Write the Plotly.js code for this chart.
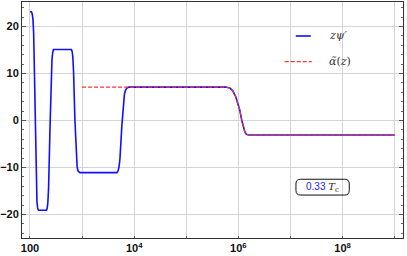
<!DOCTYPE html>
<html>
<head>
<meta charset="utf-8">
<script src="https://cdn.plot.ly/plotly-3.0.1.min.js"></script>
<style>html,body{margin:0;padding:0;background:#fff;}#chart{width:407px;height:256px;}</style>
</head>
<body>
<div id="chart"></div>
<script>
// Blue curve z*psi'
const psiX = [100, 106.8, 110.7, 114.2, 117.7, 122.0, 127.5, 132.1, 136.2, 140.5, 145.5,
  207.3, 213.7, 220.4, 227.4, 241.9, 256.2, 264.2, 272.5, 282.3,
  625.2, 644.8, 665.0, 685.9, 729.5, 776.0, 803.9, 832.7, 870.8, 910.0,
  4662, 4873, 5094, 5322, 5815, 6213, 6494, 6786, 7252, 7921,
  574200, 685600, 782400, 893400, 975600, 1065000, 1164000, 1244000, 1329000, 1420000, 1551000, 1.0e9];
const psiY = [23.2, 23.1, 22.6, 21.5, 18.5, 10, -5, -14, -17.3, -18.6, -19.1,
  -19.1, -18.7, -17.5, -14.5, -2, 9, 12.8, 14.4, 15.1,
  15.1, 14.7, 13.5, 10.5, 0, -7.5, -9.8, -10.7, -11.0, -11.1,
  -11.1, -10.8, -10, -8.3, -1, 3.5, 5.5, 6.4, 6.9, 7.1,
  7.1, 6.9, 6.3, 5, 3.8, 2.2, 0, -1.5, -2.4, -2.9, -3.1, -3.1];
// Red dashed curve alpha~(z)
const alphaX = [1000, 574200, 685600, 782400, 893400, 975600, 1065000, 1164000, 1244000, 1329000, 1420000, 1551000, 1.0e9];
const alphaY = [7.1, 7.1, 6.9, 6.3, 5, 3.8, 2.2, 0, -1.5, -2.4, -2.9, -3.1, -3.1];

const xTickVals = [100, 1e4, 1e6, 1e8];
const xTickText = ['100', '10<sup>4</sup>', '10<sup>6</sup>', '10<sup>8</sup>'];
const xMinorVals = [1e3, 1e5, 1e7, 1e9];
const yTickVals = [-20, -10, 0, 10, 20];

const legendNames = ['<i>zψ′</i>', '<i>α̃</i>(<i>z</i>)'];
const boxLabel = '<span style="color:#1a1aff">0.33</span> <span style="font-family:\'DejaVu Serif\',serif"><i>T</i><sub>c</sub></span>';

const traces = [
  {x: psiX, y: psiY, type: 'scatter', mode: 'lines', line: {color: '#1010ff', width: 1.6}, showlegend: false},
  {x: alphaX, y: alphaY, type: 'scatter', mode: 'lines', line: {color: '#ff3030', width: 1.2, dash: '4px,2px'}, showlegend: false}
];

// box geometry (paper coords)
const bx0 = 0.719, bx1 = 0.859, by0 = 0.182, by1 = 0.249, rx = 0.012, ry = 0.02;
const boxPath = `M${bx0+rx},${by0} L${bx1-rx},${by0} Q${bx1},${by0} ${bx1},${by0+ry} L${bx1},${by1-ry} Q${bx1},${by1} ${bx1-rx},${by1} L${bx0+rx},${by1} Q${bx0},${by1} ${bx0},${by1-ry} L${bx0},${by0+ry} Q${bx0},${by0} ${bx0+rx},${by0} Z`;

const layout = {
  width: 407, height: 256,
  margin: {l: 22, r: 4, t: 2, b: 18},
  paper_bgcolor: '#fff', plot_bgcolor: '#fff',
  xaxis: {
    type: 'log', range: [1.847, 9.16],
    tickmode: 'array', tickvals: xTickVals, ticktext: xTickText,
    showgrid: true, gridcolor: '#d4d4d4', gridwidth: 1,
    minor: {tickmode: 'array', tickvals: xMinorVals, showgrid: true, gridcolor: '#d4d4d4', gridwidth: 1, ticks: 'inside', ticklen: 2, tickcolor: '#555'},
    zeroline: false, showline: true, linecolor: '#333', linewidth: 1, mirror: true,
    ticks: 'inside', ticklen: 2, tickcolor: '#555',
    tickfont: {family: 'Liberation Sans, Arial, sans-serif', size: 11, color: '#111', weight: 'bold'}
  },
  yaxis: {
    range: [-25, 25.2],
    tickvals: yTickVals,
    showgrid: true, gridcolor: '#d4d4d4', gridwidth: 1,
    zeroline: false, showline: true, linecolor: '#333', linewidth: 1, mirror: 'ticks',
    ticks: 'inside', ticklen: 4, tickcolor: '#555',
    minor: {dtick: 2, ticks: 'inside', ticklen: 2, tickcolor: '#666', showgrid: false},
    tickfont: {family: 'Liberation Sans, Arial, sans-serif', size: 11, color: '#111', weight: 'bold'}
  },
  shapes: [
    {type: 'line', xref: 'paper', yref: 'paper', x0: 0.7186, x1: 0.758, y0: 0.856, y1: 0.856, line: {color: '#1010ff', width: 1.6}},
    {type: 'line', xref: 'paper', yref: 'paper', x0: 0.6897, x1: 0.7605, y0: 0.7476, y1: 0.7476, line: {color: '#ff3030', width: 1.2, dash: '4px,2px'}},
    {type: 'path', xref: 'paper', yref: 'paper', path: boxPath, line: {color: '#111', width: 1}, fillcolor: 'rgba(255,255,255,0)'}
  ],
  annotations: [
    {xref: 'paper', yref: 'paper', x: 0.8, y: 0.856, xanchor: 'left', yanchor: 'middle', text: legendNames[0], showarrow: false,
     font: {family: 'DejaVu Serif, serif', size: 11, color: '#333'}},
    {xref: 'paper', yref: 'paper', x: 0.8, y: 0.7476, xanchor: 'left', yanchor: 'middle', text: legendNames[1], showarrow: false,
     font: {family: 'DejaVu Serif, serif', size: 11, color: '#333'}},
    {xref: 'paper', yref: 'paper', x: (bx0 + bx1) / 2, y: (by0 + by1) / 2, xanchor: 'center', yanchor: 'middle', text: boxLabel, showarrow: false,
     font: {family: 'Liberation Sans, Arial, sans-serif', size: 10, color: '#222'}}
  ]
};

Plotly.newPlot('chart', traces, layout, {staticPlot: true, displayModeBar: false});
</script>
</body>
</html>
